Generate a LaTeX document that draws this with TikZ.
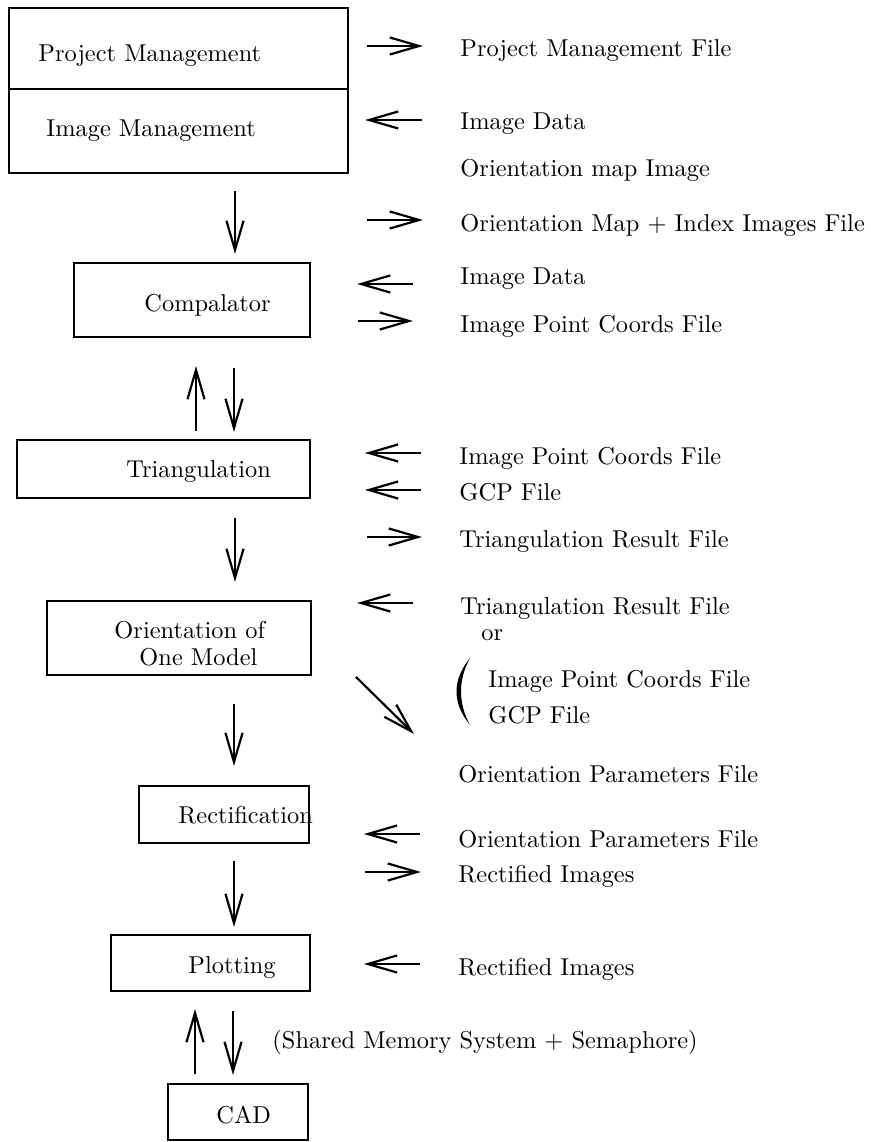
\documentclass[tikz,border=0pt]{standalone}
\usetikzlibrary{arrows.meta,fit}
\begin{document}
\tikzset{
  box/.style={draw, line width=0.8pt, inner sep=0pt, rectangle},
  lbl/.style={anchor=base west, inner sep=0pt},
  arr/.style={line width=0.9pt, -{Straight Barb[length=12pt,width=7pt]}},
}
\begin{tikzpicture}[x=0.41pt, y=-0.41pt]
\useasboundingbox (0,0) rectangle (870,1142);
% boxes
\node[box, fit={(9,8) (348,89)}] (pm) {};
\node[box, fit={(9,89) (348,173)}] (im) {};
\node[box, fit={(74,263) (310,337)}] (comp) {};
\node[box, fit={(17,440) (310,498)}] (tri) {};
\node[box, fit={(47,601) (311,675)}] (orient) {};
\node[box, fit={(139,786) (309,843)}] (rect) {};
\node[box, fit={(111,935) (310,991)}] (plot) {};
\node[box, fit={(168,1084) (308,1140)}] (cad) {};
% box texts
\node[lbl] (tpm) at (38,62) {Project Management};
\node[lbl] (tim) at (46,137) {Image Management};
\node[lbl] (tcomp) at (144,312) {Compalator};
\node[lbl] (ttri) at (126,478) {Triangulation};
\node[lbl] (tor1) at (114,638) {Orientation of};
\node[lbl] (tor2) at (139,665) {One Model};
\node[lbl] (trect) at (178,823) {Rectification};
\node[lbl] (tplot) at (188,973) {Plotting};
\node[lbl] (tcad) at (216,1123) {CAD};
% right labels
\node[lbl] (pmf) at (460,57) {Project Management File};
\node[lbl] (id1) at (460,130) {Image Data};
\node[lbl] (omi) at (460,177) {Orientation map Image};
\node[lbl] (omf) at (460,232) {Orientation Map + Index Images File};
\node[lbl] (id2) at (460,285) {Image Data};
\node[lbl] (ipc1) at (460,333) {Image Point Coords File};
\node[lbl] (ipc2) at (459,465) {Image Point Coords File};
\node[lbl] (gcp1) at (459,500) {GCP File};
\node[lbl] (trf1) at (459,548) {Triangulation Result File};
\node[lbl] (trf2) at (460,614) {Triangulation Result File};
\node[lbl] (orl) at (481,640) {or};
\node[lbl] (ipc3) at (488,687) {Image Point Coords File};
\node[lbl] (gcp2) at (488,723) {GCP File};
\node[lbl] (opf1) at (458,782) {Orientation Parameters File};
\node[lbl] (opf2) at (458,847) {Orientation Parameters File};
\node[lbl] (ri1) at (458,882) {Rectified Images};
\node[lbl] (ri2) at (458,975) {Rectified Images};
\node[lbl] (sms) at (272,1048) {(Shared Memory System + Semaphore)};
% parenthesis
\fill (470,658) .. controls (452,680) and (452,703) .. (470,725)
      .. controls (458,703) and (458,680) .. (470,658) -- cycle;
% vertical connectors
\draw[arr, shorten <=7pt, shorten >=3.3pt] (235,0 |- im.south) -- (235,0 |- comp.north);
\draw[arr, shorten <=3.3pt, shorten >=11.5pt] (196,0 |- tri.north) -- (196,0 |- comp.south);
\draw[arr, shorten <=12.3pt, shorten >=2.9pt] (234,0 |- comp.south) -- (234,0 |- tri.north);
\draw[arr, shorten <=7.8pt, shorten >=7.4pt] (235,0 |- tri.south) -- (235,0 |- orient.north);
\draw[arr, shorten <=11.5pt, shorten >=7.8pt] (234,0 |- orient.south) -- (234,0 |- rect.north);
\draw[arr, shorten <=7pt, shorten >=2.9pt] (234,0 |- rect.south) -- (234,0 |- plot.north);
\draw[arr, shorten <=3.7pt, shorten >=7pt] (195,0 |- cad.north) -- (195,0 |- plot.south);
\draw[arr, shorten <=7.8pt, shorten >=3.3pt] (233,0 |- plot.south) -- (233,0 |- cad.north);
% horizontal connectors
\draw[arr, shorten <=7.4pt, shorten >=15.2pt] (pm.east |- 0,46) -- (pmf.west |- 0,46);
\draw[arr, shorten <=15.6pt, shorten >=6.6pt] (id1.west |- 0,120) -- (im.east |- 0,120);
\draw[arr, shorten <=7.4pt, shorten >=15.2pt] (im.east |- 0,220) -- (omf.west |- 0,220);
\draw[arr, shorten <=19.3pt, shorten >=18.9pt] (id2.west |- 0,284) -- (comp.east |- 0,284);
\draw[arr, shorten <=19.3pt, shorten >=19.3pt] (comp.east |- 0,321) -- (ipc1.west |- 0,321);
\draw[arr, shorten <=15.6pt, shorten >=22.1pt] (ipc2.west |- 0,453) -- (tri.east |- 0,453);
\draw[arr, shorten <=15.6pt, shorten >=22.1pt] (gcp1.west |- 0,490) -- (tri.east |- 0,490);
\draw[arr, shorten <=23pt, shorten >=15.2pt] (tri.east |- 0,537) -- (trf1.west |- 0,537);
\draw[arr, shorten <=19.3pt, shorten >=18.5pt] (trf2.west |- 0,603) -- (orient.east |- 0,603);
\draw[arr] ([shift={(44,1)}]orient.south east) -- +(58,57);
\draw[arr, shorten <=15.6pt, shorten >=22.1pt] (opf2.west |- 0,834) -- (rect.east |- 0,834);
\draw[arr, shorten <=22.6pt, shorten >=15.2pt] (rect.east |- 0,872) -- (ri1.west |- 0,872);
\draw[arr, shorten <=15.6pt, shorten >=21.7pt] (ri2.west |- 0,964) -- (plot.east |- 0,964);
\end{tikzpicture}
\end{document}
